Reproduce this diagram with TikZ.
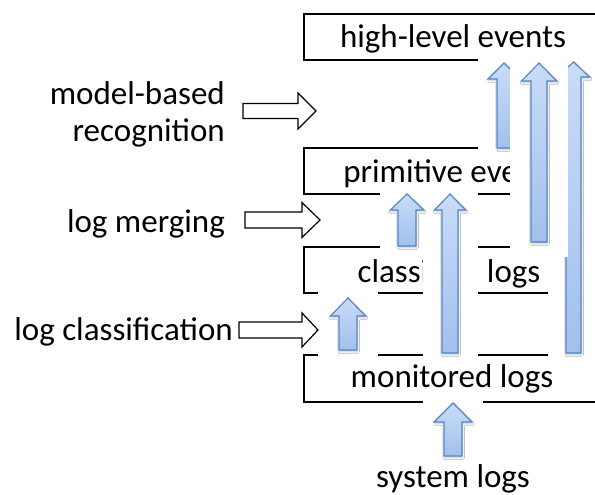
\documentclass[tikz,border=0pt]{standalone}
\usepackage{fontspec}
\setmainfont{Carlito}
\usetikzlibrary{shadows.blur}
\definecolor{arrowtop}{RGB}{201,220,248}
\definecolor{arrowbot}{RGB}{162,192,236}
\definecolor{arrowedge}{RGB}{84,132,196}
\tikzset{
  stagebox/.style={line width=1.4pt},
  lbl/.style={font=\fontsize{33}{38}\selectfont, inner sep=0pt},
  hollow/.style={draw=black, fill=white, line width=1.2pt, line join=miter},
  flow/.style={draw=arrowedge, line width=1.1pt, top color=arrowtop, bottom color=arrowbot, line join=miter,
    blur shadow={shadow xshift=0.6pt, shadow yshift=-1.8pt, shadow blur radius=1.8pt, shadow blur steps=6, shadow opacity=22}},
  mask/.style={fill=white},
}
% upward block arrow: centre x, tip y, tail y, head half width, shaft half width, head length
\newcommand{\uparrowblock}[6]{%
  \path[flow] (#1-#5,#3) -- (#1-#5,#2+#6) -- (#1-#4,#2+#6) -- (#1,#2)
    -- (#1+#4,#2+#6) -- (#1+#5,#2+#6) -- (#1+#5,#3) -- cycle;}
% rightward hollow arrow: tail x, tip x, centre y, head half height, shaft half height, head length
\newcommand{\rightarrowblock}[6]{%
  \path[hollow] (#1,#3-#5) -- (#2-#6,#3-#5) -- (#2-#6,#3-#4) -- (#2,#3)
    -- (#2-#6,#3+#4) -- (#2-#6,#3+#5) -- (#1,#3+#5) -- cycle;}
\begin{document}
\begin{tikzpicture}[x=1pt, y=-1pt]
  \clip (0,0) rectangle (595,495);

  % stages: open boxes running off to the right
  \draw[stagebox] (620,14)  -- (304,14)  -- (304,60)  -- (620,60);
  \draw[stagebox] (620,148) -- (304,148) -- (304,194) -- (620,194);
  \draw[stagebox] (620,247) -- (304,247) -- (304,293) -- (620,293);
  \draw[stagebox] (620,355) -- (304,355) -- (304,402) -- (620,402);

  \node[lbl, anchor=base] (high) at (453,48)  {high-level events};
  \node[lbl, anchor=base] (prim) at (451,182) {primitive events};
  \node[lbl, anchor=base] (clas) at (449,282) {classified logs};
  \node[lbl, anchor=base] (moni) at (452,387) {monitored logs};
  \node[lbl, anchor=base] (syst) at (453,487) {system logs};

  % lower flows with their white backings
  \fill[mask] (318,287) rectangle (378,362);
  \fill[mask] (380,189) rectangle (478,252);
  \fill[mask] (423,189) rectangle (478,362);
  \fill[mask] (423,397) rectangle (483,462);
  \uparrowblock{348}{298}{350}{17.5}{9}{18}
  \uparrowblock{407}{194}{246}{16.5}{9}{16}
  \uparrowblock{450}{194}{353}{15.5}{8}{16}
  \uparrowblock{453}{403}{456}{19}{9}{19}

  % upper flows into the high-level stage
  \fill[mask] (548,55) rectangle (600,362);
  \uparrowblock{573.5}{62}{353}{16}{7.5}{15}
  \fill[mask] (478,55) rectangle (515,155);
  \uparrowblock{504}{63}{148}{16}{7}{16}
  \fill[mask] (510,55) rectangle (568,257);
  \uparrowblock{539}{63}{242}{17.5}{8}{18}

  % processing steps
  \node[lbl, anchor=base east] (mbr1) at (225,105) {model-based};
  \node[lbl, anchor=base east] (mbr2) at (225,142) {recognition};
  \node[lbl, anchor=base east] (merg) at (225,232) {log merging};
  \node[lbl, anchor=base east] (clsf) at (233,340) {log classification};
  \rightarrowblock{243}{316}{111}{18}{7.5}{18}
  \rightarrowblock{245}{320}{220}{17.5}{8}{18}
  \rightarrowblock{239}{318}{330}{17}{8}{16}
\end{tikzpicture}
\end{document}
